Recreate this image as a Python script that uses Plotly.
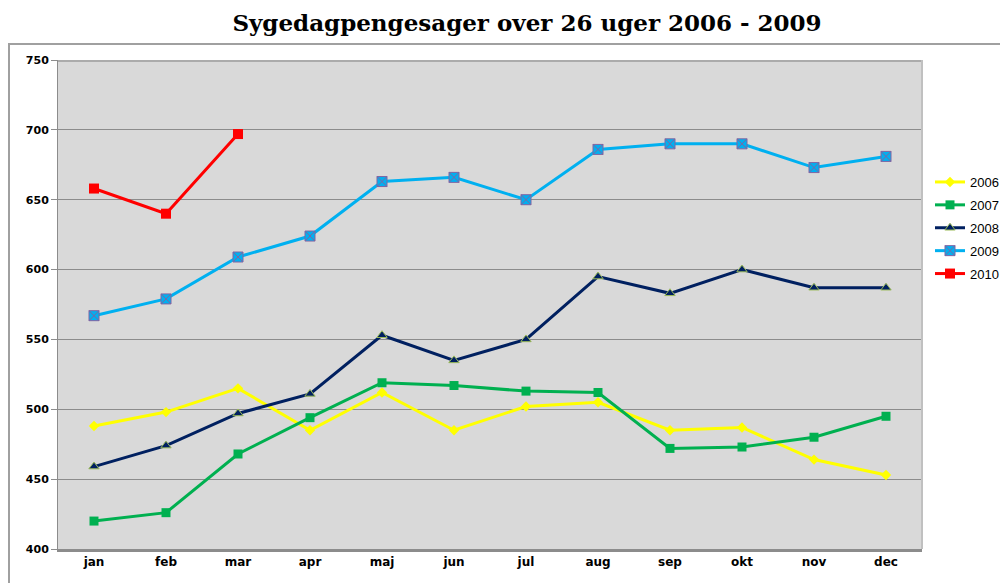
import plotly.graph_objects as go

months = ["jan", "feb", "mar", "apr", "maj", "jun", "jul", "aug", "sep", "okt", "nov", "dec"]
y2006 = [488, 498, 515, 485, 512, 485, 502, 505, 485, 487, 464, 453]
y2007 = [420, 426, 468, 494, 519, 517, 513, 512, 472, 473, 480, 495]
y2008 = [459, 474, 497, 511, 553, 535, 550, 595, 583, 600, 587, 587]
y2009 = [567, 579, 609, 624, 663, 666, 650, 686, 690, 690, 673, 681]
y2010 = [658, 640, 697]
y_ticks = [400, 450, 500, 550, 600, 650, 700, 750]

series = [
    ("2006", y2006, "#FFFF00", "diamond", 8, "#FFFF00", 0),
    ("2007", y2007, "#00B050", "square", 9, "#00B050", 0),
    ("2008", y2008, "#002060", "triangle-up", 9, "#9BBB59", 1),
    ("2009", y2009, "#00B0F0", "square-x", 10, "#8064A2", 1),
    ("2010", y2010, "#FF0000", "square", 10, "#FF0000", 0),
]

fig = go.Figure()
for name, vals, color, sym, size, lc, lw in series:
    fig.add_trace(go.Scatter(
        x=months[:len(vals)], y=vals, name=name, legendgroup=name, mode="lines+markers",
        line=dict(color=color, width=3),
        marker=dict(symbol=sym, size=size, color=color, line=dict(color=lc, width=lw)),
    ))

# page offset of 8px (browser body margin) is compensated here
OFF = 8
W, H = 1008 - OFF, 583 - OFF
ml, mr, mt, mb = 58 - OFF, 1008 - 922, 60 - OFF, 583 - 549
pw, ph = W - ml - mr, H - mt - mb

def px(x):
    return (x - OFF - ml) / pw

def py(y):
    return (H - mb - (y - OFF)) / ph

fig.update_layout(
    width=W, height=H,
    margin=dict(l=ml, r=mr, t=mt, b=mb, autoexpand=False),
    paper_bgcolor="white",
    plot_bgcolor="#D9D9D9",
    title=dict(text="<b>Sygedagpengesager over 26 uger 2006 - 2009</b>",
               x=(527 - OFF) / W, xanchor="center", y=1 - (23 - OFF) / H, yanchor="middle",
               font=dict(family="DejaVu Serif", size=23, color="black")),
    showlegend=True,
    legend=dict(x=px(1004), y=py(167), xanchor="right", yanchor="top",
                font=dict(family="Liberation Sans", size=13, color="black"),
                bgcolor="rgba(0,0,0,0)", tracegroupgap=3, itemwidth=30),
    xaxis=dict(type="category", categoryorder="array", categoryarray=months,
               range=[-0.5, 11.5], showgrid=False, showline=True,
               linecolor="#8C8C8C", linewidth=3, ticks="",
               tickfont=dict(family="DejaVu Sans", size=12, color="black", weight="bold")),
    yaxis=dict(range=[400, 750], tickvals=y_ticks, showgrid=True, gridcolor="#8C8C8C",
               gridwidth=1, showline=True, linecolor="#8C8C8C", linewidth=1,
               ticks="outside", ticklen=6, tickcolor="#8C8C8C", zeroline=False,
               tickfont=dict(family="DejaVu Sans", size=11, color="black", weight="bold")),
    shapes=[
        dict(type="line", xref="paper", yref="paper", x0=px(8), x1=px(1008), y0=py(44), y1=py(44),
             line=dict(color="#A0A0A0", width=2)),
        dict(type="line", xref="paper", yref="paper", x0=px(9), x1=px(9), y0=py(44), y1=py(583),
             line=dict(color="#A0A0A0", width=2)),
        dict(type="line", xref="paper", yref="paper", x0=px(58), x1=px(922), y0=py(61), y1=py(61),
             line=dict(color="#ABABAB", width=2)),
        dict(type="line", xref="paper", yref="paper", x0=px(922), x1=px(922), y0=py(60), y1=py(549),
             line=dict(color="#C0C0C0", width=2)),
    ],
)

fig.write_html("out.html")
